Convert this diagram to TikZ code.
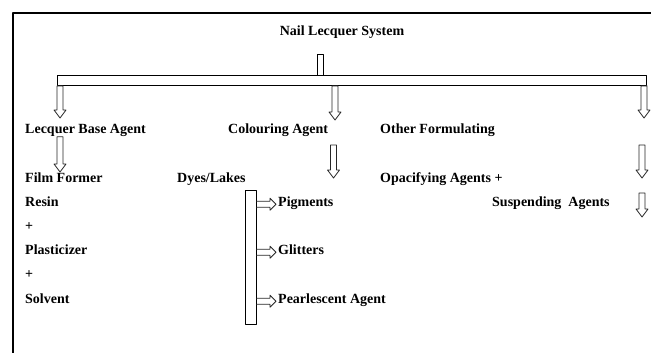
\documentclass[tikz,border=0pt]{standalone}
\usepackage{fontspec}
\setmainfont{Liberation Serif}
\usetikzlibrary{calc}
\begin{document}
\begin{tikzpicture}[x=1pt, y=-1pt, line cap=round, line join=round,
    lbl/.style={anchor=base west, inner sep=0pt, font=\fontsize{14}{16}\selectfont\bfseries},
    bar/.style={draw, fill=white, line width=0.8pt, inner sep=0pt},
    hollow down/.style={draw=black!85, line width=0.8pt, to path={let \p1=(\tikztostart), \p2=(\tikztotarget) in
      (\x1-3pt,\y1) -- (\x1-3pt,\y2+8pt) -- (\x1-6pt,\y2+8pt) -- (\x1,\y2)
      -- (\x1+6pt,\y2+8pt) -- (\x1+3pt,\y2+8pt) -- (\x1+3pt,\y1) -- cycle}},
    hollow right/.style={draw=black!85, line width=0.8pt, to path={let \p1=(\tikztostart), \p2=(\tikztotarget) in
      (\x1,\y1-3pt) -- (\x2-6pt,\y1-3pt) -- (\x2-6pt,\y1-6pt) -- (\x2,\y1)
      -- (\x2-6pt,\y1+6pt) -- (\x2-6pt,\y1+3pt) -- (\x1,\y1+3pt)}}]
    \useasboundingbox (0,0) rectangle (651,353);
    % frame
    \draw[line width=1.6pt, line cap=butt] (13,353) -- (13,13) -- (651,13);
    % top level
    \node[lbl, anchor=base] (title) at (342,36) {Nail Lecquer System};
    \node[bar, minimum width=6pt, minimum height=21pt] (stem) at (320,64.5) {};
    \node[bar, minimum width=589pt, minimum height=10pt] (bus) at (351.5,80.5) {};
    \coordinate (a1) at (60,118);
    \coordinate (a2) at (335,120);
    \coordinate (a3) at (644,118);
    \draw[hollow down] (bus.south -| a1) to (a1);
    \draw[hollow down] (bus.south -| a2) to (a2);
    \draw[hollow down] (bus.south -| a3) to (a3);
    % branches
    \node[lbl] (base) at (25,133.5) {Lecquer Base Agent};
    \node[lbl] (colour) at (228,133.5) {Colouring Agent};
    \node[lbl] (other) at (380,133.5) {Other Formulating};
    \coordinate (b1) at (60,172);
    \coordinate (c0) at (333.5,145);
    \coordinate (c1) at (333.5,178);
    \coordinate (d0) at (642,145);
    \coordinate (d1) at (642,178);
    \coordinate (e0) at (642,193);
    \coordinate (e1) at (642,217);
    \draw[hollow down] (base.south -| b1) to (b1);
    \draw[hollow down] (c0) to (c1);
    \draw[hollow down] (d0) to (d1);
    \draw[hollow down] (e0) to (e1);
    % lecquer base
    \node[lbl] (film) at (25,182.5) {Film Former};
    \node[lbl] (resin) at (25,206.5) {Resin};
    \node[lbl] (plus1) at (25,230.5) {+};
    \node[lbl] (plast) at (25,254.5) {Plasticizer};
    \node[lbl] (plus2) at (25,278.5) {+};
    \node[lbl] (solv) at (25,303.5) {Solvent};
    % colouring
    \node[lbl] (dyes) at (177,182.5) {Dyes/Lakes};
    \node[bar, minimum width=11pt, minimum height=134pt] (dyebar) at (250.5,257) {};
    \node[lbl] (pig) at (278,206.5) {Pigments};
    \node[lbl] (glit) at (278,254.5) {Glitters};
    \node[lbl] (pearl) at (278,303.5) {Pearlescent Agent};
    \draw[hollow right] (dyebar.east |- pig.mid west) to ([xshift=-2pt]pig.mid west);
    \draw[hollow right] (dyebar.east |- glit.mid west) to ([xshift=-2pt]glit.mid west);
    \draw[hollow right] (dyebar.east |- pearl.mid west) to ([xshift=-2pt]pearl.mid west);
    % other
    \node[lbl] (opac) at (380,182.5) {Opacifying Agents +};
    \node[lbl] (susp) at (492,206.5) {Suspending\ \ Agents};
\end{tikzpicture}
\end{document}
